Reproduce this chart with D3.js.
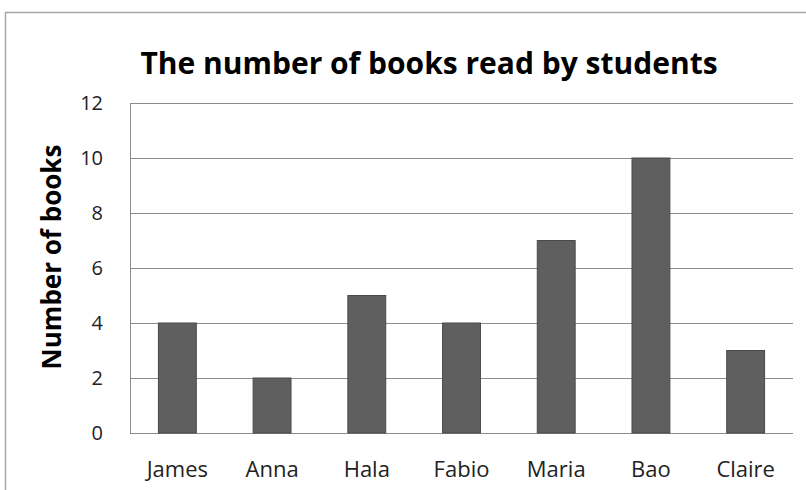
<!DOCTYPE html>
<html>
<head>
<meta charset="utf-8">
<script src="https://cdn.jsdelivr.net/npm/d3@7"></script>
<style>
  body { margin: 0; background: #fff; }
  svg { display: block; font-family: "Open Sans", Lato, sans-serif; }
</style>
</head>
<body>
<svg id="chart" width="806" height="490"></svg>
<script>
// chart values
const students = ["James", "Anna", "Hala", "Fabio", "Maria", "Bao", "Claire"];
const books = [4, 2, 5, 4, 7, 10, 3];
const yTicks = [0, 2, 4, 6, 8, 10, 12];

const margin = { top: 103, right: 13, bottom: 57, left: 130 },
    width = 806 - margin.left - margin.right,
    height = 490 - margin.top - margin.bottom;

const svg = d3.select("#chart");

// outer chart frame
svg.append("path")
    .attr("d", "M5.5,490 V12.5 H806")
    .attr("fill", "none")
    .attr("stroke", "#a6a6a6")
    .attr("stroke-width", 1.5);

const g = svg.append("g")
    .attr("transform", `translate(${margin.left}, ${margin.top})`);

const xScale = d3.scaleBand()
    .domain(students)
    .range([0, width])
    .paddingInner(0.6)
    .paddingOuter(0.3);

const yScale = d3.scaleLinear()
    .domain([0, 12])
    .range([height, 0]);

// gridlines
g.append("g")
    .selectAll("line")
    .data(yTicks)
    .join("line")
    .attr("x1", 0)
    .attr("x2", width)
    .attr("y1", d => Math.round(yScale(d)) + 0.5)
    .attr("y2", d => Math.round(yScale(d)) + 0.5)
    .attr("stroke", "#8c8c8c")
    .attr("stroke-width", 1);

// left axis line + labels
g.append("line")
    .attr("x1", 0.5).attr("x2", 0.5)
    .attr("y1", 0).attr("y2", height)
    .attr("stroke", "#8c8c8c");

g.append("g")
    .call(d3.axisLeft(yScale).tickValues(yTicks).tickSize(0).tickPadding(27))
    .call(a => a.select(".domain").remove())
    .selectAll("text")
    .attr("font-size", 20)
    .attr("font-family", "'Open Sans', sans-serif")
    .attr("fill", "#222");

// bars
g.selectAll("rect.bar")
    .data(students)
    .join("rect")
    .attr("class", "bar")
    .attr("x", d => xScale(d))
    .attr("y", (d, i) => yScale(books[i]))
    .attr("width", xScale.bandwidth())
    .attr("height", (d, i) => height - yScale(books[i]))
    .attr("fill", "#5f5f5f")
    .attr("stroke", "#4a4a4a")
    .attr("stroke-width", 1);

// x axis labels
g.append("g")
    .attr("transform", `translate(0, ${height})`)
    .call(d3.axisBottom(xScale).tickSize(0).tickPadding(28))
    .call(a => a.select(".domain").remove())
    .selectAll("text")
    .attr("font-size", 22)
    .attr("font-family", "'Open Sans', sans-serif")
    .attr("fill", "#222");

// title
svg.append("text")
    .attr("x", 429)
    .attr("y", 74)
    .attr("text-anchor", "middle")
    .attr("font-size", 30)
    .attr("font-weight", "bold")
    .attr("fill", "#000")
    .text("The number of books read by students");

// y axis title
svg.append("text")
    .attr("transform", "translate(61, 257) rotate(-90)")
    .attr("text-anchor", "middle")
    .attr("font-size", 26)
    .attr("font-weight", "bold")
    .attr("fill", "#000")
    .text("Number of books");
</script>
</body>
</html>
